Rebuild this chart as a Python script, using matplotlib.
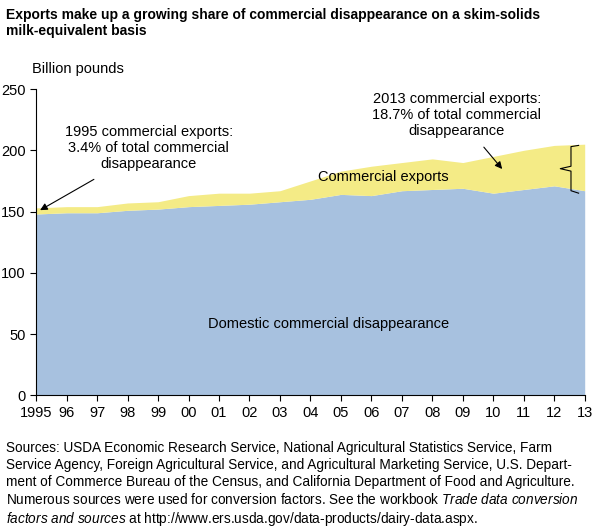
import matplotlib.pyplot as plt

plt.rcParams['font.family'] = ['Liberation Sans', 'DejaVu Sans']
plt.rcParams['mathtext.fontset'] = 'custom'
plt.rcParams['mathtext.rm'] = 'Liberation Sans'
plt.rcParams['mathtext.it'] = 'Liberation Sans:italic'

years = list(range(1995, 2014))
year_labels = ['1995'] + [f'{y % 100:02d}' for y in years[1:]]
domestic = [148, 149, 149, 151, 152, 154, 155, 156, 158, 160, 164, 163, 167, 168, 169, 165, 168, 171, 167]
total = [153, 154, 154, 157, 158, 163, 165, 165, 167, 175, 183, 187, 190, 193, 190, 195, 200, 204, 205]

fig = plt.figure(figsize=(5.93, 5.27), dpi=100)
ax = fig.add_axes([0.061, 0.25, 0.925, 0.581])

ax.fill_between(years, 0, domestic, color='#a7c1df', lw=0)
ax.fill_between(years, domestic, total, color='#f4eb86', lw=0)
ax.set_xlim(1995, 2013)
ax.set_ylim(0, 250)
ax.set_xticks(years)
ax.set_xticklabels(year_labels, fontsize=10.5)
ax.set_yticks(range(0, 251, 50))
ax.tick_params(labelsize=10.5, length=4, direction='out')
for s in ['top', 'right']:
    ax.spines[s].set_visible(False)

ax.text(2004.6, 55, 'Domestic commercial disappearance', ha='center', fontsize=10.5)
ax.text(2006.4, 175, 'Commercial exports', ha='center', fontsize=10.5)
ax.annotate('1995 commercial exports:\n3.4% of total commercial\ndisappearance',
            xy=(1995.05, 150), xytext=(1998.7, 202), ha='center', va='center',
            fontsize=10.5, arrowprops=dict(arrowstyle='-|>', color='black', lw=0.8, shrinkA=8))
ax.annotate('2013 commercial exports:\n18.7% of total commercial\ndisappearance',
            xy=(2010.35, 183), xytext=(2008.8, 229), ha='center', va='center',
            fontsize=10.5, arrowprops=dict(arrowstyle='-|>', color='black', lw=0.8, shrinkA=6))
# brace
bx = 2012.55
ax.plot([bx + 0.25, bx, bx, bx - 0.35, bx, bx, bx + 0.25],
        [204, 203, 187, 185, 183, 167, 165], color='black', lw=0.8, clip_on=False)

ax.text(1994.85, 263, 'Billion pounds', fontsize=10.5)
fig.text(0.01, 0.985, 'Exports make up a growing share of commercial disappearance on a skim-solids\nmilk-equivalent basis',
         fontsize=10, fontweight='bold', va='top')
fig.text(0.01, 0.163, 'Sources: USDA Economic Research Service, National Agricultural Statistics Service, Farm\n'
         'Service Agency, Foreign Agricultural Service, and Agricultural Marketing Service, U.S. Depart-\n'
         'ment of Commerce Bureau of the Census, and California Department of Food and Agriculture.\n'
         'Numerous sources were used for conversion factors. See the workbook $\\it{Trade\\ data\\ conversion}$\n'
         '$\\it{factors\\ and\\ sources}$ at http://www.ers.usda.gov/data-products/dairy-data.aspx.',
         fontsize=9.8, va='top', linespacing=1.25)
fig.savefig('out.png', dpi=100)
